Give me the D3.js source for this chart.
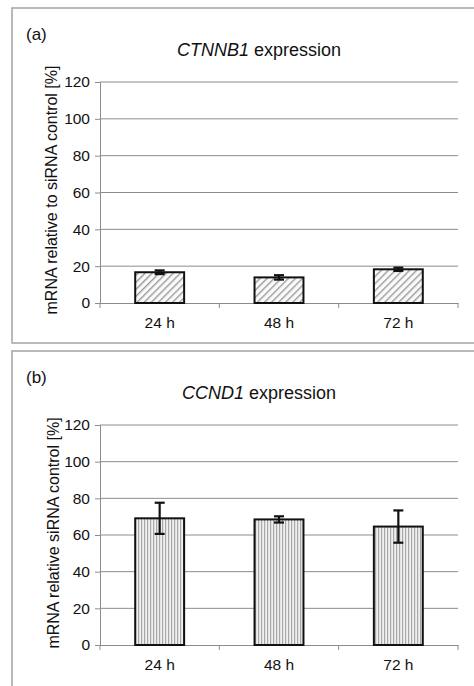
<!DOCTYPE html>
<html><head><meta charset="utf-8">
<script src="https://cdn.jsdelivr.net/npm/d3@7"></script>
<style>
html,body{margin:0;padding:0;background:#fff;}
svg{display:block;font-family:"Liberation Sans",Arial,sans-serif;}
</style></head>
<body>
<svg id="chart" width="474" height="686"></svg>
<script>
const categories = ["24 h", "48 h", "72 h"];
const yTicks = [0, 20, 40, 60, 80, 100, 120];
const ctnnb1Values = [16.7, 13.9, 18.3];
const ctnnb1Errors = [1.0, 1.2, 0.9];
const ccnd1Values = [69.1, 68.5, 64.6];
const ccnd1Errors = [8.5, 1.7, 8.8];

const panels = [
  {tag:"(a)", gene:"CTNNB1", ylabel:"mRNA relative to siRNA control [%]", values:ctnnb1Values, errors:ctnnb1Errors,
   box:[12,8,480,343], top:82, bottom:303, tagY:40, titleY:56, pattern:"diag", ylabelX:57, ylabelY:190},
  {tag:"(b)", gene:"CCND1", ylabel:"mRNA relative siRNA control [%]", values:ccnd1Values, errors:ccnd1Errors,
   box:[12,351,480,700], top:425, bottom:645, tagY:383, titleY:399, pattern:"vert", ylabelX:59, ylabelY:533}
];

const svg = d3.select("#chart");
const defs = svg.append("defs");
const pd = defs.append("pattern").attr("id","diag").attr("patternUnits","userSpaceOnUse")
  .attr("width",5).attr("height",5).attr("patternTransform","rotate(45)");
pd.append("rect").attr("width",5).attr("height",5).attr("fill","#fafafa");
pd.append("rect").attr("width",1.4).attr("height",5).attr("fill","#9a9a9a");
const pv = defs.append("pattern").attr("id","vert").attr("patternUnits","userSpaceOnUse")
  .attr("width",3).attr("height",3);
pv.append("rect").attr("width",3).attr("height",3).attr("fill","#f0f0f0");
pv.append("rect").attr("width",1.2).attr("height",3).attr("fill","#a8a8a8");

const left = 100, right = 458;

panels.forEach(p => {
  const g = svg.append("g");
  g.append("rect").attr("x",p.box[0]).attr("y",p.box[1])
    .attr("width",p.box[2]-p.box[0]).attr("height",p.box[3]-p.box[1])
    .attr("fill","none").attr("stroke","#a9a9a9").attr("stroke-width",1.6);

  g.append("text").attr("x",26).attr("y",p.tagY).attr("font-size",17).attr("fill","#111").text(p.tag);
  const t = g.append("text").attr("x",259).attr("y",p.titleY).attr("text-anchor","middle")
    .attr("font-size",18).attr("fill","#111");
  t.append("tspan").attr("font-style","italic").text(p.gene);
  t.append("tspan").text(" expression");

  const x = d3.scaleBand().domain(categories).range([left,right]).padding(0);
  const y = d3.scaleLinear().domain([0,120]).range([p.bottom,p.top]);

  // gridlines
  g.selectAll(".grid").data(yTicks.filter(d=>d>0)).join("line")
    .attr("x1",left).attr("x2",right).attr("y1",d=>y(d)).attr("y2",d=>y(d))
    .attr("stroke","#8c8c8c").attr("stroke-width",1);

  // y axis
  const ya = g.append("g").attr("transform",`translate(${left},0)`)
    .call(d3.axisLeft(y).tickValues(yTicks).tickSize(5).tickPadding(5));
  ya.select(".domain").attr("stroke","#8c8c8c");
  ya.selectAll(".tick line").attr("stroke","#8c8c8c");
  ya.selectAll("text").attr("font-size",15.5).attr("fill","#111")
    .attr("font-family","Liberation Sans, Arial, sans-serif");

  // x axis
  const xa = g.append("g").attr("transform",`translate(0,${p.bottom})`)
    .call(d3.axisBottom(x).tickSize(0).tickPadding(14));
  xa.select(".domain").attr("stroke","#8c8c8c");
  xa.selectAll("text").attr("font-size",15.5).attr("fill","#111")
    .attr("font-family","Liberation Sans, Arial, sans-serif");
  const bounds = categories.map(c=>x(c)).concat([x(categories[categories.length-1])+x.bandwidth()]);
  g.selectAll(".xt").data(bounds).join("line")
    .attr("x1",d=>d).attr("x2",d=>d).attr("y1",p.bottom).attr("y2",p.bottom+5)
    .attr("stroke","#8c8c8c");

  // y label
  g.append("text").attr("transform",`translate(${p.ylabelX},${p.ylabelY}) rotate(-90)`)
    .attr("text-anchor","middle").attr("font-size",16).attr("fill","#111").text(p.ylabel);

  // bars
  const bw = x.bandwidth()*0.41;
  g.selectAll(".bar").data(categories).join("rect")
    .attr("x",(c)=>x(c)+(x.bandwidth()-bw)/2).attr("width",bw)
    .attr("y",(c,i)=>y(p.values[i])).attr("height",(c,i)=>y(0)-y(p.values[i]))
    .attr("fill",`url(#${p.pattern})`).attr("stroke","#111").attr("stroke-width",2);

  // error bars
  const cap = 5;
  categories.forEach((c,i)=>{
    const cx = x(c)+x.bandwidth()/2;
    const hi = y(p.values[i]+p.errors[i]), lo = y(p.values[i]-p.errors[i]);
    g.append("line").attr("x1",cx).attr("x2",cx).attr("y1",hi).attr("y2",lo)
      .attr("stroke","#111").attr("stroke-width",2.2);
    [hi,lo].forEach(yy=>g.append("line").attr("x1",cx-cap).attr("x2",cx+cap).attr("y1",yy).attr("y2",yy)
      .attr("stroke","#111").attr("stroke-width",2.2));
  });
});
</script>
</body></html>
